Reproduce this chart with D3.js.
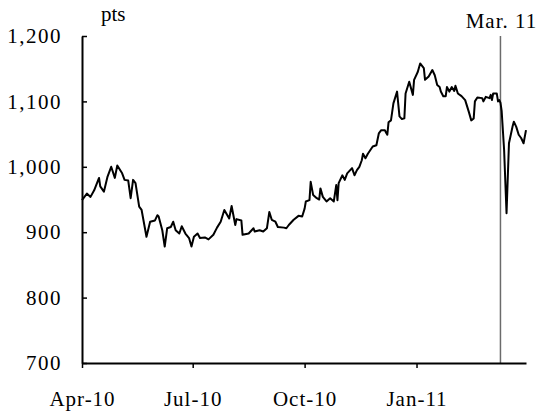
<!DOCTYPE html>
<html>
<head>
<meta charset="utf-8">
<script src="https://cdn.jsdelivr.net/npm/d3@7"></script>
<style>
  html, body { margin: 0; padding: 0; background: #fff; }
  svg { display: block; }
  text { font-family: 'Liberation Serif', 'Times New Roman', serif; fill: #000; }
</style>
</head>
<body>
<script>
var dates = [
  '2010-04-01', '2010-04-05', '2010-04-08', '2010-04-11', '2010-04-15', '2010-04-16', '2010-04-19', '2010-04-22',
  '2010-04-25', '2010-04-28', '2010-04-30', '2010-05-04', '2010-05-06', '2010-05-09', '2010-05-11', '2010-05-13',
  '2010-05-15', '2010-05-18', '2010-05-20', '2010-05-24', '2010-05-27', '2010-05-31', '2010-06-02', '2010-06-03',
  '2010-06-06', '2010-06-08', '2010-06-10', '2010-06-13', '2010-06-15', '2010-06-17', '2010-06-20', '2010-06-22',
  '2010-06-25', '2010-06-28', '2010-06-30', '2010-07-02', '2010-07-05', '2010-07-07', '2010-07-11', '2010-07-14',
  '2010-07-18', '2010-07-21', '2010-07-24', '2010-07-27', '2010-07-31', '2010-08-02', '2010-08-05', '2010-08-06',
  '2010-08-10', '2010-08-11', '2010-08-16', '2010-08-20', '2010-08-21', '2010-08-25', '2010-08-28', '2010-08-31',
  '2010-09-02', '2010-09-04', '2010-09-07', '2010-09-09', '2010-09-14', '2010-09-16', '2010-09-18', '2010-09-22',
  '2010-09-26', '2010-09-29', '2010-10-01', '2010-10-02', '2010-10-05', '2010-10-06', '2010-10-08', '2010-10-11',
  '2010-10-13', '2010-10-14', '2010-10-16', '2010-10-19', '2010-10-22', '2010-10-25', '2010-10-27', '2010-10-28',
  '2010-10-29', '2010-11-01', '2010-11-03', '2010-11-05', '2010-11-09', '2010-11-11', '2010-11-13', '2010-11-15',
  '2010-11-17', '2010-11-18', '2010-11-20', '2010-11-22', '2010-11-26', '2010-11-29', '2010-12-01', '2010-12-03',
  '2010-12-06', '2010-12-07', '2010-12-08', '2010-12-09', '2010-12-11', '2010-12-13', '2010-12-16', '2010-12-18',
  '2010-12-20', '2010-12-22', '2010-12-23', '2010-12-26', '2010-12-29', '2010-12-30', '2011-01-02', '2011-01-04',
  '2011-01-07', '2011-01-08', '2011-01-11', '2011-01-14', '2011-01-16', '2011-01-18', '2011-01-20', '2011-01-21',
  '2011-01-23', '2011-01-25', '2011-01-26', '2011-01-28', '2011-01-30', '2011-02-01', '2011-02-02', '2011-02-04',
  '2011-02-07', '2011-02-10', '2011-02-13', '2011-02-15', '2011-02-17', '2011-02-18', '2011-02-20', '2011-02-24',
  '2011-02-25', '2011-02-27', '2011-03-02', '2011-03-03', '2011-03-04', '2011-03-05', '2011-03-08', '2011-03-09',
  '2011-03-10', '2011-03-11', '2011-03-12', '2011-03-14', '2011-03-16', '2011-03-18', '2011-03-21', '2011-03-22',
  '2011-03-24', '2011-03-26', '2011-03-28', '2011-03-30', '2011-04-01'
];

var values = [
  949, 959, 954, 964, 983, 970, 962, 985,
  1000, 983, 1002, 990, 980, 979, 952, 980,
  975, 939, 934, 893, 916, 918, 926, 924,
  903, 878, 906, 908, 916, 903, 898, 909,
  898, 891, 878, 893, 898, 891, 892, 889,
  896, 907, 916, 934, 921, 940, 911, 920,
  918, 896, 898, 906, 901, 903, 901, 906,
  931, 919, 916, 908, 907, 906, 911, 919,
  925, 924, 936, 947, 949, 977, 957, 952,
  950, 967, 954, 947, 952, 947, 972, 949,
  975, 987, 980, 990, 998, 987, 995, 1000,
  1010, 1020, 1013, 1020, 1031, 1033, 1051, 1056,
  1056, 1052, 1049, 1068, 1071, 1097, 1115, 1077,
  1073, 1074, 1112, 1130, 1110, 1133, 1145, 1158,
  1151, 1133, 1138, 1148, 1140, 1125, 1122, 1115,
  1108, 1108, 1122, 1115, 1122, 1116, 1124, 1112,
  1108, 1102, 1084, 1071, 1074, 1100, 1106, 1105,
  1100, 1107, 1105, 1110, 1102, 1112, 1112, 1100,
  1102, 1098, 1085, 1026, 929, 1036, 1062, 1069,
  1061, 1049, 1044, 1036, 1056
];

var yTicks = [700, 800, 900, 1000, 1100, 1200];
var xTickDates = ['2010-04-01', '2010-07-01', '2010-10-01', '2011-01-01'];
var xTickLabels = ['Apr-10', 'Jul-10', 'Oct-10', 'Jan-11'];
var xDomain = ['2010-04-01', '2011-04-01'];
var eventDate = '2011-03-11';
var eventLabel = 'Mar. 11';
var unitLabel = 'pts';

(function () {
  'use strict';
  var width = 537,
    height = 412,
    left = 82,
    right = 526,
    top = 36,
    bottom = 363,
    parse = d3.timeParse('%Y-%m-%d'),
    svgEl,
    x,
    y,
    series;

  init();

  function init() {
    svgEl = d3.select('body')
      .append('svg')
      .attr('width', width)
      .attr('height', height);

    x = d3.scaleTime()
      .domain(xDomain.map(parse))
      .range([left, right]);

    y = d3.scaleLinear()
      .domain([700, 1200])
      .range([bottom, top]);

    series = dates.map(function (d, i) {
      return { date: parse(d), value: values[i] };
    });

    drawEvent();
    drawAxes();
    drawLine();
  }

  function drawEvent() {
    var ex = x(parse(eventDate));

    svgEl.append('line')
      .attr('x1', ex)
      .attr('x2', ex)
      .attr('y1', y(1200))
      .attr('y2', y(700))
      .attr('stroke', '#6b6b6b')
      .attr('stroke-width', 1.5);

    // label sits centred over the marker line
    svgEl.append('text')
      .attr('x', ex + 1)
      .attr('y', 28)
      .attr('text-anchor', 'middle')
      .style('font-size', '21px')
      .style('letter-spacing', '1px')
      .text(eventLabel);
  }

  function drawAxes() {
    var yAxis = d3.axisLeft(y)
      .tickValues(yTicks)
      .tickSize(-5)
      .tickSizeOuter(0)
      .tickPadding(20)
      .tickFormat(d3.format(','));

    var gy = svgEl.append('g')
      .attr('transform', 'translate(' + left + ',0)')
      .call(yAxis);

    var xAxis = d3.axisBottom(x)
      .tickValues(xTickDates.map(parse))
      .tickSize(5)
      .tickSizeOuter(0)
      .tickFormat(function (d, i) {
        return xTickLabels[i];
      });

    var gx = svgEl.append('g')
      .attr('transform', 'translate(0,' + bottom + ')')
      .call(xAxis);

    [gx, gy].forEach(function (g) {
      g.select('.domain').attr('stroke', '#000').attr('stroke-width', 2);
      g.selectAll('.tick line').attr('stroke', '#000').attr('stroke-width', 1.5);
      g.selectAll('.tick text')
        .attr('font-family', null)
        .style('font-size', '21px')
        .attr('fill', '#000');
    });

    gy.selectAll('.tick text')
      .style('letter-spacing', '1.5px');

    gx.selectAll('.tick text')
      .style('letter-spacing', '1px')
      .attr('y', 43)
      .attr('dy', 0);

    svgEl.append('text')
      .attr('x', 101)
      .attr('y', 21)
      .style('font-size', '21px')
      .text(unitLabel);
  }

  function drawLine() {
    var line = d3.line()
      .x(function (d) {
        return x(d.date);
      })
      .y(function (d) {
        return y(d.value);
      });

    svgEl.append('path')
      .datum(series)
      .attr('d', line)
      .attr('fill', 'none')
      .attr('stroke', '#000')
      .attr('stroke-width', 2)
      .attr('stroke-linejoin', 'round');
  }
}());
</script>
</body>
</html>
